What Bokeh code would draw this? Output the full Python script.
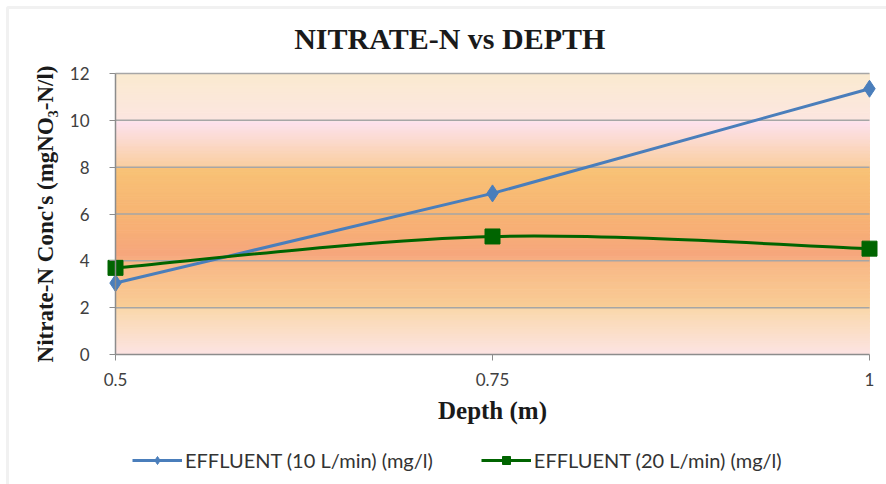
from bokeh.plotting import figure
from bokeh.models import (Range1d, FixedTicker, Legend, LegendItem, BoxAnnotation, Label)
from bokeh.embed import file_html
from bokeh.resources import INLINE
import numpy as np

# --- data ---
depth = [0.5, 0.75, 1.0]
eff_10 = [3.05, 6.88, 11.35]   # EFFLUENT (10 L/min) (mg/l)
eff_20 = [3.70, 5.04, 4.52]    # EFFLUENT (20 L/min) (mg/l)
y_ticks = [0, 2, 4, 6, 8, 10, 12]
x_ticks = [0.5, 0.75, 1.0]
x_tick_labels = ["0.5", "0.75", "1"]

BLUE = "#4a7ebb"
GREEN = "#006400"
W, H = 886, 484

# The frame covers the whole canvas; the data area sits inside it at fixed pixels.
AREA_L, AREA_R, AREA_T, AREA_B = 115, 869, 73, 354
sx = (AREA_R - AREA_L) / (x_ticks[-1] - x_ticks[0])
sy = (AREA_B - AREA_T) / (y_ticks[-1] - y_ticks[0])
x_start = x_ticks[0] - AREA_L / sx
y_start = y_ticks[0] - (H - AREA_B) / sy


def px_x(px):
    return x_start + px / sx


def px_y(py):
    return y_start + (H - py) / sy


p = figure(width=W, height=H, output_backend="svg", toolbar_location=None,
           x_range=Range1d(x_start, x_start + W / sx),
           y_range=Range1d(y_start, y_start + H / sy),
           min_border=0)
p.background_fill_color = "white"
p.border_fill_color = "white"
p.outline_line_color = None
p.grid.visible = False

# vertical colour wash behind the plot area (value, rgb) stops
stops = [
    (12.0, (250, 234, 208)),
    (10.05, (252, 230, 224)),
    (9.95, (253, 226, 238)),
    (8.05, (249, 206, 160)),
    (7.95, (248, 194, 118)),
    (6.0, (247, 180, 115)),
    (4.3, (246, 166, 124)),
    (3.9, (248, 184, 134)),
    (2.05, (249, 205, 150)),
    (1.95, (250, 216, 172)),
    (0.0, (252, 228, 228)),
]
sv = np.array([s[0] for s in stops])[::-1]
sc = np.array([s[1] for s in stops], dtype=float)[::-1]
n = 200
edges = np.linspace(y_ticks[0], y_ticks[-1], n + 1)
mids = 0.5 * (edges[:-1] + edges[1:])
cols = []
for m in mids:
    rgb = [np.interp(m, sv, sc[:, k]) for k in range(3)]
    cols.append("#%02x%02x%02x" % tuple(int(round(c)) for c in rgb))
p.quad(left=depth[0], right=depth[-1], bottom=edges[:-1], top=edges[1:],
       fill_color=cols, line_color=cols, line_width=1)

# horizontal gridlines across the plot area
p.segment(x0=depth[0], x1=depth[-1], y0=y_ticks[1:], y1=y_ticks[1:],
          line_color="#a6a6a6", line_width=1.5)

# blue series: straight segments
r10_line = p.line(depth, eff_10, line_color=BLUE, line_width=3)
r10_mark = p.scatter(depth, eff_10, marker="diamond", size=17, fill_color=BLUE, line_color=BLUE)

# green series: smoothed curve (cardinal spline as cubic Bezier segments)
xs = np.array(depth); ys = np.array(eff_20)
xp = np.concatenate([[xs[0]], xs, [xs[-1]]])
yp = np.concatenate([[ys[0]], ys, [ys[-1]]])
x0s, y0s, x1s, y1s, cx0, cy0, cx1, cy1 = ([] for _ in range(8))
for i in range(len(xs) - 1):
    a, b, c, d = i, i + 1, i + 2, i + 3
    x0s.append(xp[b]); y0s.append(yp[b]); x1s.append(xp[c]); y1s.append(yp[c])
    cx0.append(xp[b] + (xp[c] - xp[a]) / 6); cy0.append(yp[b] + (yp[c] - yp[a]) / 6)
    cx1.append(xp[c] - (xp[d] - xp[b]) / 6); cy1.append(yp[c] - (yp[d] - yp[b]) / 6)
p.bezier(x0=x0s, y0=y0s, x1=x1s, y1=y1s, cx0=cx0, cy0=cy0, cx1=cx1, cy1=cy1,
         line_color=GREEN, line_width=3)
r20_leg = p.line(depth, eff_20, line_color=GREEN, line_width=3, visible=False)
r20_mark = p.scatter(depth, eff_20, marker="square", size=15, fill_color=GREEN, line_color=GREEN)

# axes, pinned to the edges of the data area
AX = "#8c8c8c"
p.yaxis.fixed_location = depth[0]
p.xaxis.fixed_location = y_ticks[0]
p.yaxis.bounds = (y_ticks[0], y_ticks[-1])
p.xaxis.bounds = (depth[0], depth[-1])
p.yaxis.ticker = FixedTicker(ticks=y_ticks)
p.xaxis.ticker = FixedTicker(ticks=x_ticks)
p.xaxis.major_label_overrides = {t: l for t, l in zip(x_ticks, x_tick_labels)}
for ax in (p.xaxis, p.yaxis):
    ax.axis_line_color = AX
    ax.axis_line_width = 1.5
    ax.major_tick_line_color = AX
    ax.major_tick_out = 6
    ax.major_tick_in = 0
    ax.minor_tick_line_color = None
    ax.major_label_text_font = "Lato"
    ax.major_label_text_font_size = "17px"
    ax.major_label_text_color = "#404040"
    ax.axis_label_text_font = "Liberation Serif"
    ax.axis_label_text_font_style = "bold"
    ax.axis_label_text_color = "#1a1a1a"
p.xaxis.axis_label = "Depth (m)"
p.yaxis.axis_label = "Nitrate-N Conc's (mgNO\u2083-N/l)"
p.xaxis.axis_label_text_font_size = "25px"
p.yaxis.axis_label_text_font_size = "23px"
p.yaxis.major_label_standoff = 20
p.xaxis.major_label_standoff = 12
p.xaxis.axis_label_standoff = 8
p.yaxis.axis_label_standoff = 9

# title
p.add_layout(Label(x=px_x(453), y=px_y(38), text="NITRATE-N  vs DEPTH",
                   text_align="center", text_baseline="middle",
                   text_font="Liberation Serif", text_font_style="bold",
                   text_font_size="30px", text_color="#1a1a1a"))

# legend below the plot
legend = Legend(items=[
    LegendItem(label="EFFLUENT (10 L/min) (mg/l)", renderers=[r10_line, r10_mark]),
    LegendItem(label="EFFLUENT (20 L/min) (mg/l)", renderers=[r20_leg, r20_mark]),
], orientation="horizontal", location=(132, 12))
legend.glyph_width = 50
legend.glyph_height = 20
legend.label_standoff = 3
legend.spacing = 48
legend.padding = 0
legend.margin = 0
legend.label_text_font = "Lato"
legend.label_text_font_size = "20px"
legend.label_text_color = "#333333"
legend.background_fill_alpha = 0
legend.border_line_color = None
p.add_layout(legend, "center")

# chart border (left and top edges visible)
p.add_layout(BoxAnnotation(left=px_x(7), right=px_x(W + 40), top=px_y(7), bottom=px_y(H + 40),
                           fill_alpha=0, line_color="#d2d2d2", line_width=3))

open("out.html", "w").write(file_html(p, INLINE))
